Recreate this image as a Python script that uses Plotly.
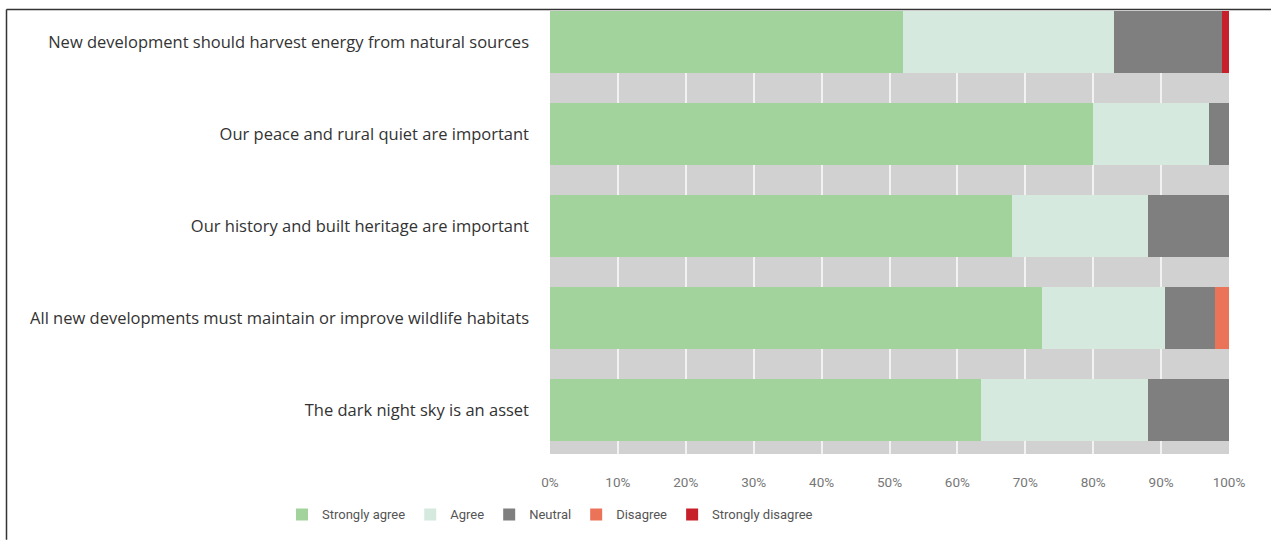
import plotly.graph_objects as go

# Survey statements, listed top to bottom
statements = [
    "New development should harvest energy from natural sources",
    "Our peace and rural quiet are important",
    "Our history and built heritage are important",
    "All new developments must maintain or improve wildlife habitats",
    "The dark night sky is an asset",
]

# Share of responses (%) per answer, same order as statements
strongly_agree = [52.0, 80.0, 68.0, 72.5, 63.5]
agree = [31.0, 17.0, 20.0, 18.0, 24.5]
neutral = [16.0, 3.0, 12.0, 7.5, 12.0]
disagree = [0.0, 0.0, 0.0, 2.0, 0.0]
strongly_disagree = [1.0, 0.0, 0.0, 0.0, 0.0]

tick_values = [0, 10, 20, 30, 40, 50, 60, 70, 80, 90, 100]
tick_labels = [f"{v}%" for v in tick_values]

series = [
    ("Strongly agree", strongly_agree, "#a3d39c"),
    ("Agree", agree, "#d6e9df"),
    ("Neutral", neutral, "#7f7f7f"),
    ("Disagree", disagree, "#eb7358"),
    ("Strongly disagree", strongly_disagree, "#c8202a"),
]

fig = go.Figure()
for name, values, color in series:
    fig.add_trace(go.Bar(
        name=name,
        y=statements,
        x=values,
        orientation="h",
        width=0.667,
        marker=dict(color=color, line=dict(width=0)),
        hoverinfo="x+name",
    ))

L, R, T, B = 550, 42, 11, 82
W, H = 1271, 540
pw, ph = W - L - R, H - T - B

# Frame lines along the top and left edges of the graphic
frame_x = (6.5 - L) / pw
frame_y = (H - B - 9.5) / ph
fig.add_shape(type="line", xref="paper", yref="paper",
              x0=frame_x, x1=(W - L) / pw + 0.01, y0=frame_y, y1=frame_y,
              line=dict(color="#333333", width=1.5))
fig.add_shape(type="line", xref="paper", yref="paper",
              x0=frame_x, x1=frame_x, y0=frame_y, y1=-B / ph - 0.01,
              line=dict(color="#333333", width=1.5))

small_font = "Roboto, Liberation Sans Narrow, sans-serif"

fig.update_layout(
    barmode="stack",
    width=W,
    height=H,
    margin=dict(l=L, r=R, t=T, b=B, pad=0),
    paper_bgcolor="white",
    plot_bgcolor="#d1d1d1",
    showlegend=True,
    legend=dict(
        orientation="h",
        traceorder="normal",
        x=(282 - L) / pw,
        xanchor="left",
        y=(H - B - 519) / ph,
        yanchor="middle",
        font=dict(family=small_font, size=13, color="#555555"),
        itemwidth=30,
        tracegroupgap=0,
        bgcolor="rgba(0,0,0,0)",
    ),
    xaxis=dict(
        range=[0, 100],
        tickvals=tick_values,
        ticktext=tick_labels,
        showgrid=True,
        gridcolor="#f2f2f2",
        gridwidth=1.5,
        zeroline=False,
        showline=False,
        ticks="",
        ticklabelstandoff=18,
        tickfont=dict(family=small_font, size=13.5, color="#777777"),
        fixedrange=True,
    ),
    yaxis=dict(
        categoryorder="array",
        categoryarray=statements,
        range=[4.48, -0.335],
        autorange=False,
        showgrid=False,
        zeroline=False,
        ticks="",
        ticklabelstandoff=20,
        tickfont=dict(family="Open Sans, sans-serif", size=16.5, color="#333333"),
        fixedrange=True,
    ),
)

fig.write_html("out.html")
